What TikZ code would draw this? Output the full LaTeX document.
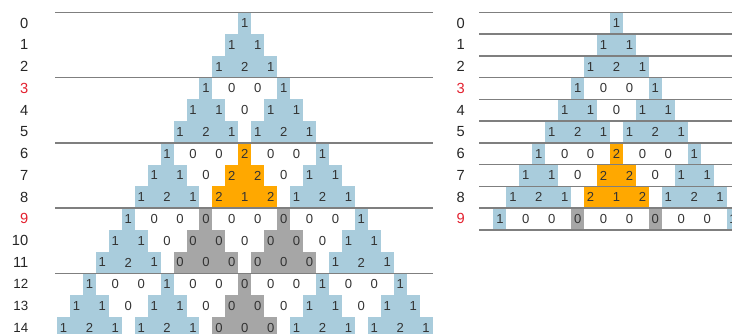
\documentclass[tikz,border=0pt]{standalone}
\usepackage{fontspec}
\setmainfont{Liberation Sans}
\usepackage{xcolor}
\usepackage{tikz}

\definecolor{cellblue}{HTML}{A9CCDC}
\definecolor{cellorange}{HTML}{FFA800}
\definecolor{cellgray}{HTML}{A6A6A6}
\definecolor{rulegray}{HTML}{7F7F7F}
\definecolor{rowred}{HTML}{E3202E}

\begin{document}
\begin{tikzpicture}[
    x=0.75pt, y=-0.75pt,
    cell/.style={minimum width=9.71pt, minimum height=16.31pt, inner sep=0pt,
                 font=\fontsize{9.8}{10}\selectfont, text=black!80},
    cb/.style={fill=cellblue}, co/.style={fill=cellorange},
    cg/.style={fill=cellgray}, cw/.style={},
    rowlbl/.style={anchor=east, inner sep=0pt, font=\fontsize{11}{12}\selectfont, text=black!85},
    rowred/.style={rowlbl, text=rowred},
    rowsmall/.style={rowlbl, font=\fontsize{10}{11}\selectfont},
    sep/.style={rulegray, line width=1.1pt}
]
\useasboundingbox (0,0) rectangle (732,334);

% rows of Pascal's triangle mod 3: value/colour
\def\pascalrows{0/{1/b},
  1/{1/b,1/b},
  2/{1/b,2/b,1/b},
  3/{1/b,0/w,0/w,1/b},
  4/{1/b,1/b,0/w,1/b,1/b},
  5/{1/b,2/b,1/b,1/b,2/b,1/b},
  6/{1/b,0/w,0/w,2/o,0/w,0/w,1/b},
  7/{1/b,1/b,0/w,2/o,2/o,0/w,1/b,1/b},
  8/{1/b,2/b,1/b,2/o,1/o,2/o,1/b,2/b,1/b},
  9/{1/b,0/w,0/w,0/g,0/w,0/w,0/g,0/w,0/w,1/b},
  10/{1/b,1/b,0/w,0/g,0/g,0/w,0/g,0/g,0/w,1/b,1/b},
  11/{1/b,2/b,1/b,0/g,0/g,0/g,0/g,0/g,0/g,1/b,2/b,1/b},
  12/{1/b,0/w,0/w,1/b,0/w,0/w,0/g,0/w,0/w,1/b,0/w,0/w,1/b},
  13/{1/b,1/b,0/w,1/b,1/b,0/w,0/g,0/g,0/w,1/b,1/b,0/w,1/b,1/b},
  14/{1/b,2/b,1/b,1/b,2/b,1/b,0/g,0/g,0/g,1/b,2/b,1/b,1/b,2/b,1/b}}

\foreach \p/\cx/\last in {L/244.8/14, R/616.5/9}{
  \foreach \n/\cells in \pascalrows{
    \ifnum\n>\last\relax\else
      \foreach \v/\c [count=\k from 0] in \cells{
        \node[cell, c\c] (\p-\n-\k) at ({\cx+(2*\k-\n)*12.95}, {23.2+\n*21.75}) {\v};
        % fill the gap to the left neighbour inside one small triangle
        \pgfmathtruncatemacro\joined{(\k>0)*(mod(\k-1,3)<mod(\n,3))}
        \pgfmathtruncatemacro\prev{\k-1}
        \ifnum\joined=1
          \path[c\c] ([xshift=-0.2pt]\p-\n-\prev.north east) rectangle ([xshift=0.2pt]\p-\n-\k.south west);
        \fi
      }
    \fi
  }
}

% separator rules
\foreach \n in {0,3,...,12}
  \draw[sep] (55, {12.3+\n*21.75}) -- (433, {12.3+\n*21.75});
\foreach \n in {0,...,10}
  \draw[sep] (479, {12.3+\n*21.75}) -- (732, {12.3+\n*21.75});

% row numbers
\foreach \n/\s in {0/rowlbl,1/rowlbl,2/rowlbl,3/rowred,4/rowlbl,5/rowlbl,6/rowlbl,7/rowlbl,
                   8/rowlbl,9/rowred,10/rowlbl,11/rowlbl,12/rowsmall,13/rowsmall,14/rowsmall}
  \node[\s] (Llbl-\n) at (28.5, {23.2+\n*21.75}) {\n};
\foreach \n/\s in {0/rowlbl,1/rowlbl,2/rowlbl,3/rowred,4/rowlbl,5/rowlbl,6/rowlbl,7/rowlbl,
                   8/rowlbl,9/rowred}
  \node[\s] (Rlbl-\n) at (465, {23.2+\n*21.75}) {\n};
\end{tikzpicture}
\end{document}
